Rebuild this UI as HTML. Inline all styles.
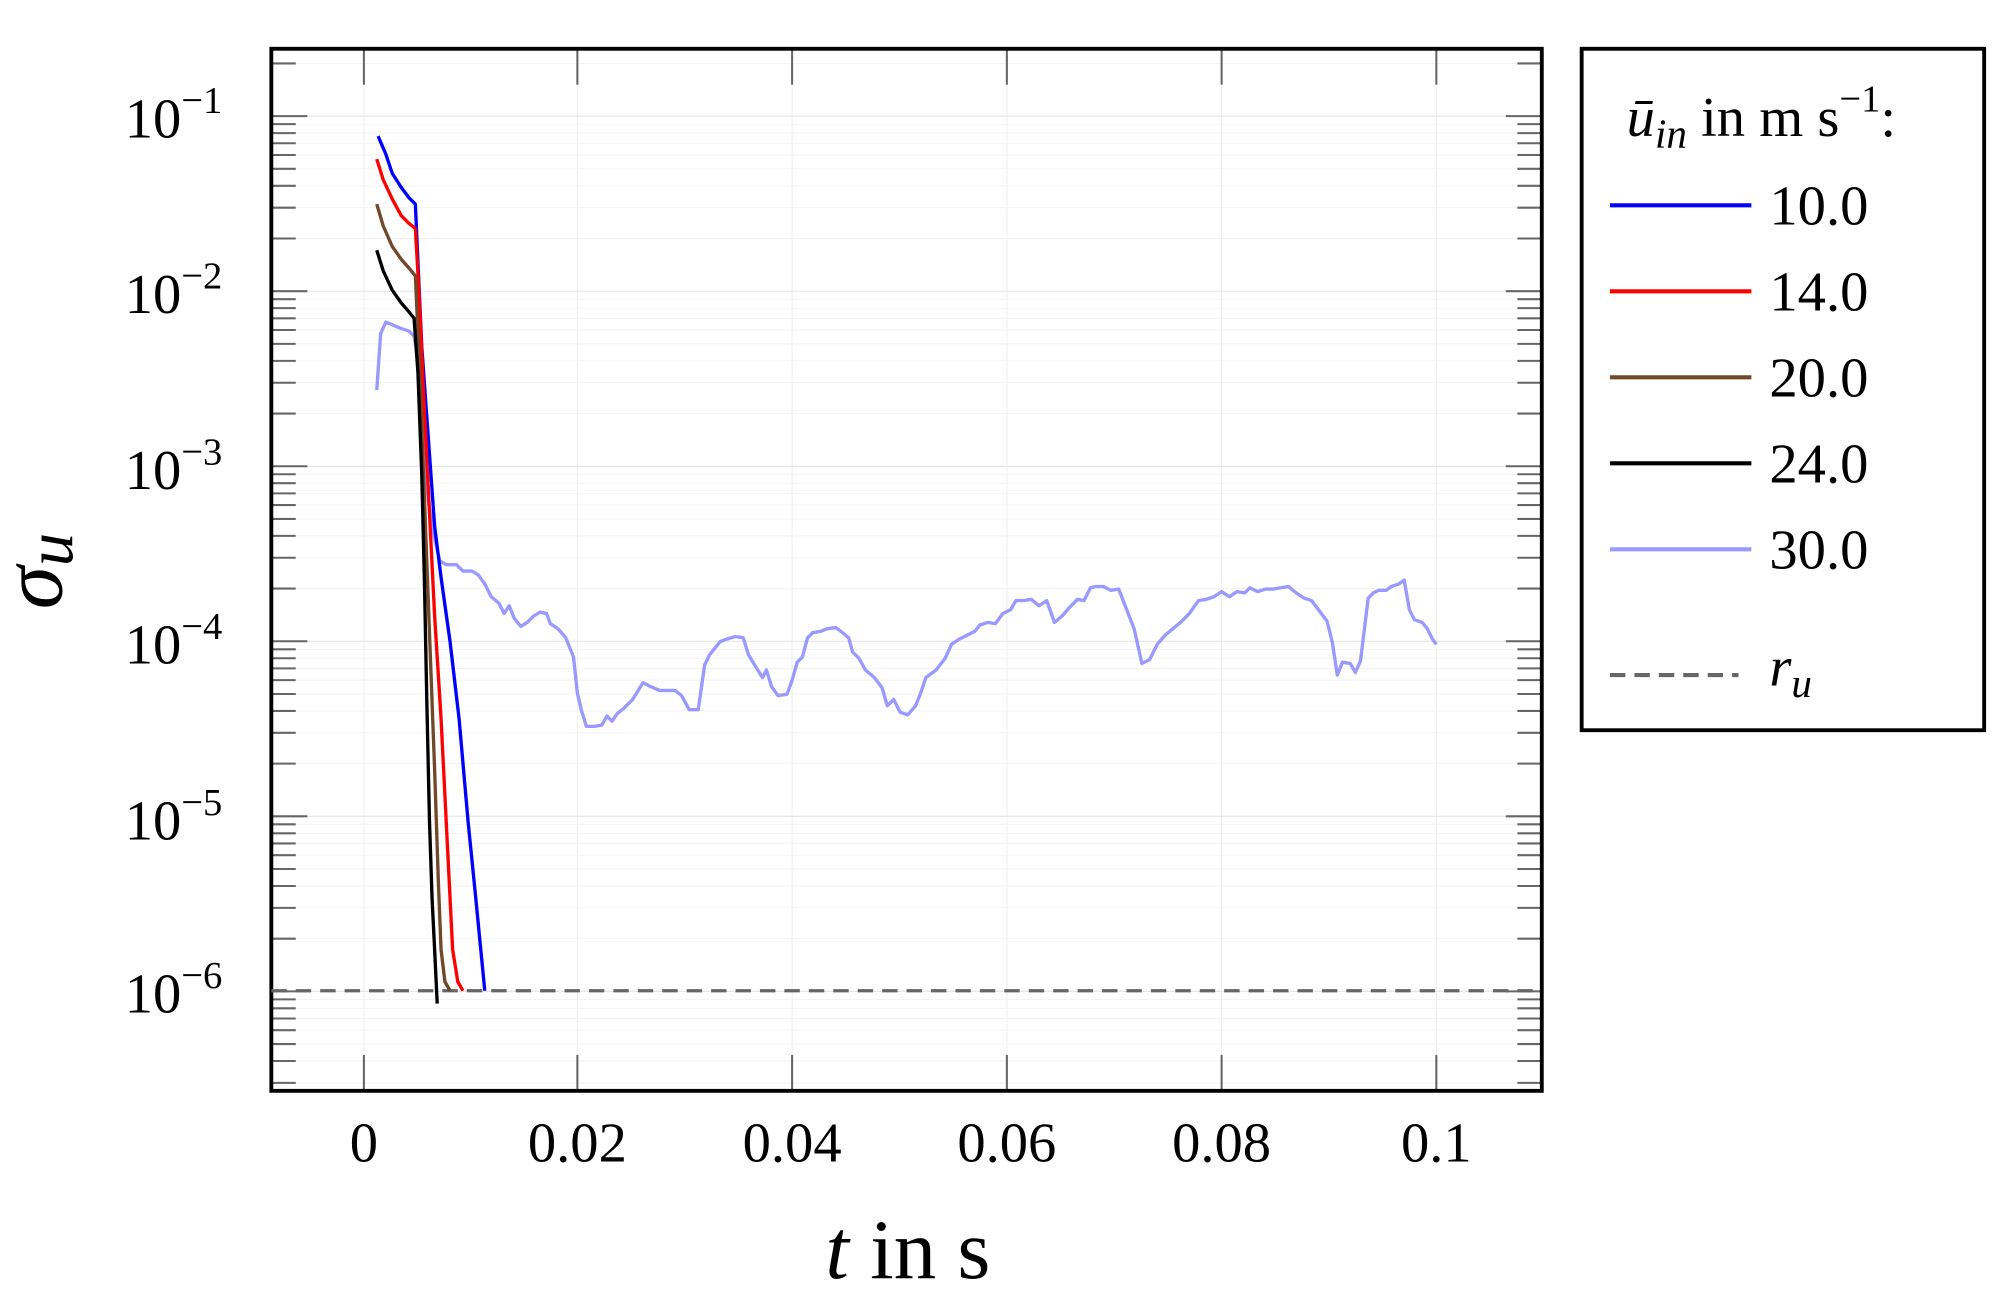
<!DOCTYPE html>
<html><head><style>html,body{margin:0;padding:0;background:#fff}svg{display:block}</style></head>
<body>
<svg width="2006" height="1309" viewBox="0 0 1560 1020" preserveAspectRatio="none" xmlns="http://www.w3.org/2000/svg" font-family="Liberation Serif, serif">
<rect width="1560" height="1020" fill="#fff"/>
<g id="grid" stroke="#eee" stroke-width="0.8">
<line x1="283" y1="38" x2="283" y2="850"/><line x1="449" y1="38" x2="449" y2="850"/><line x1="616" y1="38" x2="616" y2="850"/><line x1="783" y1="38" x2="783" y2="850"/><line x1="950" y1="38" x2="950" y2="850"/><line x1="1117" y1="38" x2="1117" y2="850"/>
</g>
<g id="ygrid"></g>
<g stroke="#666" stroke-width="1.6" id="ticks"></g>
<rect x="211" y="38" width="988" height="812" fill="none" stroke="#000" stroke-width="3"/>
<line x1="211" y1="772" x2="1199" y2="772" stroke="#666" stroke-width="2.5" stroke-dasharray="12,7"/>
<g fill="none" stroke-width="2.6" stroke-linejoin="round">
<polyline stroke="#9999ff" points="293,304 296,260 300,251 305,253 312,256 318,258 322,262 325,280 328,330 333,390 338,420 342,437 347,440 355,440 360,445 367,445 372,448 377,455 382,465 388,470 392,478 396,472 400,482 405,488 410,485 415,480 420,477 425,478 428,486 434,490 440,497 446,512 449,540 452,553 456,566 462,566 468,565 472,558 476,562 480,556 485,552 492,545 500,532 506,535 513,538 520,538 525,538 530,542 536,553 543,553 548,518 552,510 556,505 560,500 565,498 572,496 578,497 582,510 588,520 593,528 596,522 600,535 605,542 612,541 616,530 620,516 624,512 628,497 632,493 638,492 643,490 650,489 654,492 660,497 663,508 668,513 673,522 680,528 686,536 690,550 695,545 700,555 706,557 712,550 716,540 720,528 728,522 735,513 740,502 746,498 752,495 758,492 762,487 768,485 774,486 780,478 786,475 790,468 796,468 802,467 808,472 814,468 820,485 826,480 832,473 838,467 843,468 848,458 852,457 858,457 864,460 870,459 875,472 882,490 888,517 894,514 900,502 906,495 912,490 918,485 925,478 932,468 938,467 944,465 950,461 956,465 962,461 968,462 972,458 978,461 984,459 990,459 996,458 1002,457 1008,462 1014,466 1020,468 1026,476 1032,484 1036,500 1040,526 1044,516 1050,517 1054,524 1058,515 1064,466 1068,462 1072,460 1078,460 1082,457 1088,455 1092,452 1096,475 1100,483 1106,485 1110,490 1114,498 1117,502"/>
<polyline stroke="#0000ff" points="294,106 300,120 305,135 312,146 318,154 323,159 328,270 333,340 338,410 343,450 350,500 357,560 364,640 370,700 377,772"/>
<polyline stroke="#ff0000" points="293,124 298,140 305,155 312,168 318,174 323,178 326,230 330,320 334,400 338,480 343,560 347,640 352,740 356,765 360,772"/>
<polyline stroke="#70492a" points="293,159 298,176 305,192 312,202 319,210 323,215 326,280 329,360 332,440 335,520 338,600 341,690 343,740 346,765 350,772"/>
<polyline stroke="#000" points="293,195 298,211 305,226 312,236 318,243 322,248 325,290 328,370 330,450 332,550 334,640 336,700 338,740 340,782"/>
</g>
<g font-size="44" fill="#000">
<text x="97" y="107">10<tspan font-size="30" dy="-19">−1</tspan></text>
<text x="97" y="244">10<tspan font-size="30" dy="-19">−2</tspan></text>
<text x="97" y="381">10<tspan font-size="30" dy="-19">−3</tspan></text>
<text x="97" y="517">10<tspan font-size="30" dy="-19">−4</tspan></text>
<text x="97" y="654">10<tspan font-size="30" dy="-19">−5</tspan></text>
<text x="97" y="789">10<tspan font-size="30" dy="-19">−6</tspan></text>
</g>
<g font-size="44" text-anchor="middle" fill="#000">
<text x="283" y="905">0</text><text x="449" y="905">0.02</text><text x="616" y="905">0.04</text><text x="783" y="905">0.06</text><text x="950" y="905">0.08</text><text x="1117" y="905">0.1</text>
</g>
<text x="706" y="996" font-size="66" text-anchor="middle"><tspan font-style="italic">t</tspan> in s</text>
<text transform="translate(48,445) rotate(-90)" font-size="68" text-anchor="middle" font-style="italic">σ<tspan font-size="52" dy="8">u</tspan></text>
<rect x="1230" y="38" width="313" height="531" fill="#fff" stroke="#000" stroke-width="3"/>
<text x="1265" y="106" font-size="44"><tspan font-style="italic">ū</tspan><tspan font-style="italic" font-size="32" dy="9">in</tspan><tspan dy="-9"> in m s</tspan><tspan font-size="30" dy="-19">−1</tspan><tspan dy="19">:</tspan></text>
<g stroke-width="3.2">
<line x1="1252" y1="160" x2="1362" y2="160" stroke="#0000ff"/>
<line x1="1252" y1="227" x2="1362" y2="227" stroke="#ff0000"/>
<line x1="1252" y1="294" x2="1362" y2="294" stroke="#70492a"/>
<line x1="1252" y1="361" x2="1362" y2="361" stroke="#000"/>
<line x1="1252" y1="428" x2="1362" y2="428" stroke="#9999ff"/>
<line x1="1252" y1="526" x2="1352" y2="526" stroke="#666" stroke-dasharray="12,7"/>
</g>
<g font-size="44">
<text x="1376" y="175">10.0</text><text x="1376" y="242">14.0</text><text x="1376" y="309">20.0</text><text x="1376" y="376">24.0</text><text x="1376" y="443">30.0</text>
<text x="1376" y="534" font-style="italic">r<tspan font-size="32" dy="9">u</tspan></text>
</g>
<script>
(function(){
var ns="http://www.w3.org/2000/svg",g=document.getElementById("ticks"),yg=document.getElementById("ygrid");
function ln(p,x1,y1,x2,y2,s,w){var l=document.createElementNS(ns,"line");l.setAttribute("x1",x1);l.setAttribute("y1",y1);l.setAttribute("x2",x2);l.setAttribute("y2",y2);if(s){l.setAttribute("stroke",s);l.setAttribute("stroke-width",w);}p.appendChild(l);}
var d=136.4,y1=90.5;
for(var k=-1;k<7;k++){var base=y1+k*d;
 for(var m=1;m<=9;m++){var y=base-Math.log10(m)*d; if(y<38||y>850)continue;
  var major=(m==1);
  ln(yg,211,y,1199,y,major?"#e6e6e6":"#f2f2f2",major?0.9:0.7);
  var L=major?28:19;ln(g,211,y,211+L,y);ln(g,1199,y,1199-L,y);}}
[283,449,616,783,950,1117].forEach(function(x){ln(g,x,850,x,822);ln(g,x,38,x,66);});
})();
</script>
</svg>
</body></html>
